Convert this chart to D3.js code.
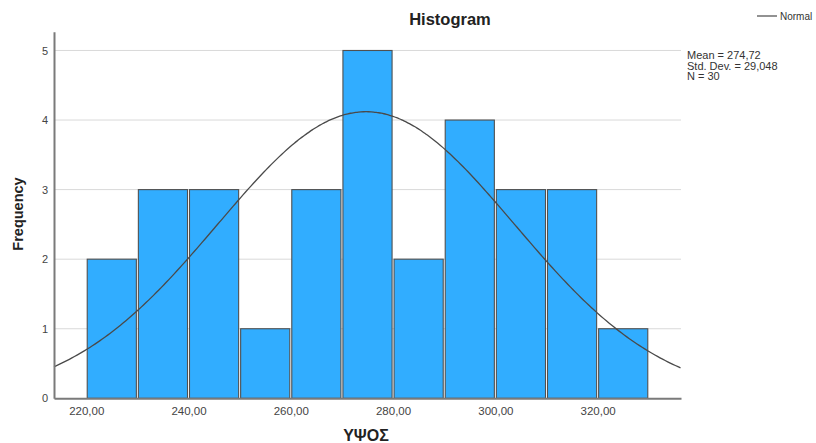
<!DOCTYPE html>
<html>
<head>
<meta charset="utf-8">
<script src="https://cdn.jsdelivr.net/npm/d3@7"></script>
<style>
  html, body { margin: 0; padding: 0; background: #fff; }
  svg { display: block; font-family: Arial, "Liberation Sans", sans-serif; }
</style>
</head>
<body>
<svg id="chart" width="816" height="443"></svg>
<script>
// Histogram of heights (ΥΨΟΣ), bin width 10, with fitted normal curve
const binStarts = [220, 230, 240, 250, 260, 270, 280, 290, 300, 310, 320];
const binWidth = 10;
const counts = [2, 3, 3, 1, 3, 5, 2, 4, 3, 3, 1];
const xTicks = [220, 240, 260, 280, 300, 320];
const yTicks = [0, 1, 2, 3, 4, 5];
const meanValue = 274.72;
const stdDev = 29.048;
const nCases = 30;
const statLines = ["Mean = 274,72", "Std. Dev. = 29,048", "N = 30"];

const svg = d3.select("#chart");

const x = d3.scaleLinear().domain([213.7, 336.3]).range([54, 681]);
const y = d3.scaleLinear().domain([0, 5.27]).range([398.3, 31.7]);

// horizontal gridlines
svg.append("g")
  .selectAll("line")
  .data(yTicks.filter(d => d > 0))
  .join("line")
  .attr("x1", x.range()[0]).attr("x2", x.range()[1])
  .attr("y1", d => y(d)).attr("y2", d => y(d))
  .attr("stroke", "#d9d9d9").attr("stroke-width", 1);

// bars
svg.append("g")
  .selectAll("rect")
  .data(binStarts.map((s, i) => ({ s, c: counts[i] })))
  .join("rect")
  .attr("x", d => x(d.s) + 1)
  .attr("width", d => x(d.s + binWidth) - x(d.s) - 2)
  .attr("y", d => y(d.c))
  .attr("height", d => y(0) - y(d.c))
  .attr("fill", "#31adff")
  .attr("stroke", "#505050")
  .attr("stroke-width", 1.1);

// normal curve scaled to frequency
const scaleN = nCases * binWidth / (stdDev * Math.sqrt(2 * Math.PI));
const curvePts = d3.range(213.7, 336.31, 0.5).map(v => [v, scaleN * Math.exp(-0.5 * ((v - meanValue) / stdDev) ** 2)]);
svg.append("path")
  .datum(curvePts)
  .attr("d", d3.line().x(d => x(d[0])).y(d => y(d[1])).curve(d3.curveBasis))
  .attr("fill", "none")
  .attr("stroke", "#4a4a4a")
  .attr("stroke-width", 1.3);

// axes
const xAxis = svg.append("g")
  .attr("transform", `translate(0,${y(0)})`)
  .call(d3.axisBottom(x).tickValues(xTicks).tickSize(0).tickPadding(9)
    .tickFormat(d => d3.format(".2f")(d).replace(".", ",")));
xAxis.select(".domain").attr("stroke", "#7a7a7a").attr("stroke-width", 2);
xAxis.selectAll("text").attr("font-size", 11.5).attr("fill", "#444")
  .attr("font-family", "Arial, 'Liberation Sans', sans-serif");

const yAxis = svg.append("g")
  .attr("transform", `translate(${x.range()[0]},0)`)
  .call(d3.axisLeft(y).tickValues(yTicks).tickSize(0).tickPadding(6).tickFormat(d3.format("d")));
yAxis.select(".domain").attr("stroke", "#7a7a7a").attr("stroke-width", 2);
yAxis.selectAll("text").attr("font-size", 11).attr("fill", "#444")
  .attr("font-family", "Arial, 'Liberation Sans', sans-serif");

// title and axis labels
svg.append("text")
  .attr("x", 450).attr("y", 25)
  .attr("text-anchor", "middle")
  .attr("font-size", 16.5).attr("font-weight", "bold").attr("fill", "#222")
  .text("Histogram");

svg.append("text")
  .attr("transform", "translate(23,214) rotate(-90)")
  .attr("text-anchor", "middle")
  .attr("font-size", 14.5).attr("font-weight", "bold").attr("fill", "#222")
  .text("Frequency");

svg.append("text")
  .attr("x", 366).attr("y", 441)
  .attr("text-anchor", "middle")
  .attr("font-size", 16).attr("font-weight", "bold").attr("fill", "#222")
  .text("ΥΨΟΣ");

// legend
svg.append("line")
  .attr("x1", 757).attr("x2", 777).attr("y1", 16).attr("y2", 16)
  .attr("stroke", "#4a4a4a").attr("stroke-width", 1.2);
svg.append("text")
  .attr("x", 780).attr("y", 19.5)
  .attr("font-size", 10).attr("fill", "#333")
  .text("Normal");

// summary statistics
svg.append("g")
  .selectAll("text")
  .data(statLines)
  .join("text")
  .attr("x", 687)
  .attr("y", (d, i) => 59 + i * 10.5)
  .attr("font-size", 11).attr("fill", "#333")
  .text(d => d);
</script>
</body>
</html>
